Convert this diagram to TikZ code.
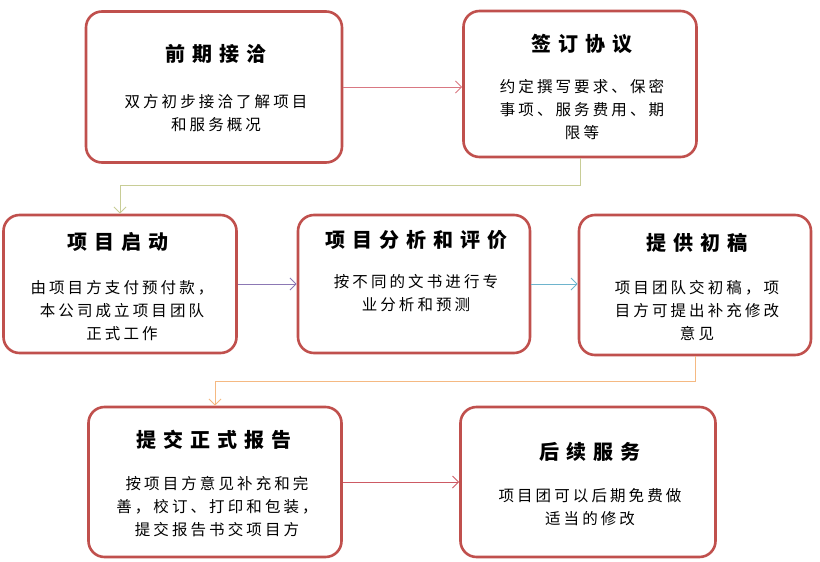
\documentclass[tikz,border=0pt]{standalone}
\usepackage{fontspec}
\setmainfont{Noto Sans CJK SC}
\newfontfamily\ttlfont[LetterSpace=35]{Noto Sans CJK SC}
\newfontfamily\bdyfont[LetterSpace=20]{Noto Sans CJK SC}
\usetikzlibrary{arrows.meta}
\definecolor{bd}{RGB}{192,80,77}
\begin{document}
\begin{tikzpicture}[x=1pt,y=-1pt,
 box/.style={draw=bd,line width=2.6pt,rounded corners=16pt,fill=white,inner sep=0pt},
 ttl/.style={font=\ttlfont\fontsize{20}{22}\selectfont\bfseries},
 bdy/.style={font=\bdyfont\fontsize{15.5}{23}\selectfont,align=center},
 con/.style={line width=1pt,-{Straight Barb[length=6pt,width=12pt]}}]
\useasboundingbox (0,0) rectangle (820,562);
\node[box,minimum width=256pt,minimum height=151pt] (b1) at (214,87) {};
\node[box,minimum width=233pt,minimum height=146pt] (b2) at (580,84) {};
\node[box,minimum width=233pt,minimum height=138pt] (b3) at (120,284) {};
\node[box,minimum width=232pt,minimum height=138pt] (b4) at (414,284) {};
\node[box,minimum width=232pt,minimum height=140pt] (b5) at (695,285) {};
\node[box,minimum width=253pt,minimum height=150pt] (b6) at (215,482) {};
\node[box,minimum width=255pt,minimum height=150pt] (b7) at (588,482) {};
\node[ttl] (t1) at (216,54) {前期接洽};
\node[bdy] (d1) at (216,113) {双方初步接洽了解项目\\和服务概况};
\node[ttl] (t2) at (582,44) {签订协议};
\node[bdy] (d2) at (582,110) {约定撰写要求、保密\\事项、服务费用、期\\限等};
\node[ttl] (t3) at (118,242) {项目启动};
\node[bdy] (d3) at (122,311) {由项目方支付预付款，\\本公司成立项目团队\\正式工作};
\node[ttl] (t4) at (416,240) {项目分析和评价};
\node[bdy] (d4) at (416,293) {按不同的文书进行专\\业分析和预测};
\node[ttl] (t5) at (697,243) {提供初稿};
\node[bdy] (d5) at (697,311) {项目团队交初稿，项\\目方可提出补充修改\\意见};
\node[ttl] (t6) at (214,440) {提交正式报告};
\node[bdy] (d6) at (217,507) {按项目方意见补充和完\\善，校订、打印和包装，\\提交报告书交项目方};
\node[ttl] (t7) at (590,452) {后续服务};
\node[bdy] (d7) at (590,507) {项目团可以后期免费做\\适当的修改};
\draw[con,draw={rgb,255:red,217;green,120;blue,130}] (b1.east) -- (b2.west|-b1.east);
\draw[con,draw={rgb,255:red,200;green,205;blue,150}] (b2.south) -- ++(0,27) -| (b3.north);
\draw[con,draw={rgb,255:red,140;green,120;blue,180}] (b3.east) -- (b4.west);
\draw[con,draw={rgb,255:red,110;green,180;blue,205}] (b4.east) -- (b5.west|-b4.east);
\draw[con,draw={rgb,255:red,245;green,185;blue,130}] (b5.south) -- ++(0,25) -| (b6.north);
\draw[con,draw={rgb,255:red,205;green,90;blue,100}] (b6.east) -- (b7.west);
\end{tikzpicture}
\end{document}
